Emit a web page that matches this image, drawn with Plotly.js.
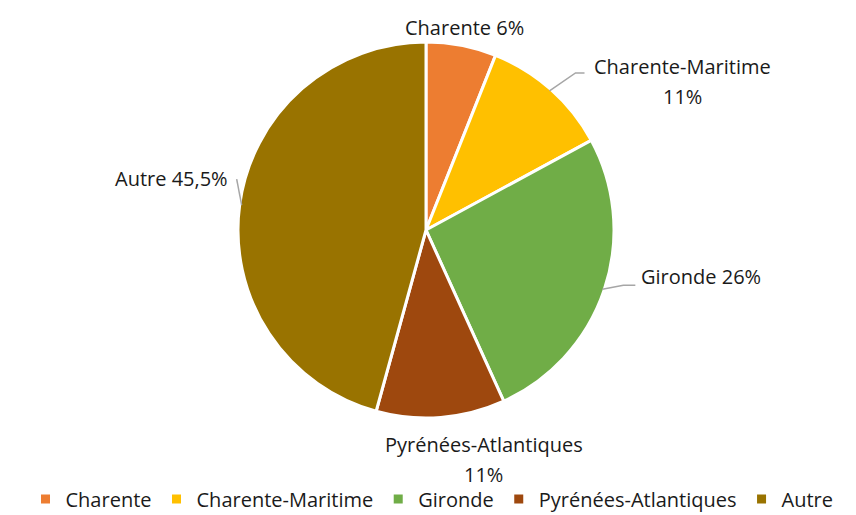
<!DOCTYPE html>
<html>
<head>
<meta charset="utf-8">
<script src="https://cdn.plot.ly/plotly-3.0.1.min.js"></script>
<style>
  html, body { margin: 0; padding: 0; background: #fff; }
  #chart { width: 856px; height: 515px; }
</style>
</head>
<body>
<div id="chart"></div>
<script>
// données
let labels = ['Charente', 'Charente-Maritime', 'Gironde', 'Pyrénées-Atlantiques', 'Autre'];
let values = [6, 11, 26, 11, 45.5];
let colors = ['#ED7D31', '#FFC000', '#70AD47', '#9E480E', '#997300'];
let breakLine = [false, true, false, true, false];

// placement des étiquettes (décalage en px depuis le bord de la part)
let labelOffset = [[3, -20], [133, -9], [99, -13], [43, 44], [-70, -27]];
let leaderPts = [null, [[26, -18], [35, -18]], [[21, -4], [33, -4]], null, [[-5, -26]]];

const W = 856, H = 515;
const M = { l: 0, r: 0, t: 40, b: 95, autoexpand: false };
const PW = W - M.l - M.r, PH = H - M.t - M.b;
// camembert : centre et rayon en px
const cx = 426, cy = 230, R = 186;
const lineGap = 30;

function px2paper(x, y) {
    return [(x - M.l) / PW, (M.t + PH - y) / PH];
}

let total = values.reduce((a, b) => a + b, 0);
let annotations = [];
let shapes = [];
let cum = 0;
const txtFont = { family: '"Open Sans", sans-serif', size: 20, color: '#1a1a1a' };

values.forEach((v, i) => {
    let mid = (cum + v / 2) / total * 2 * Math.PI;
    cum += v;
    let ex = cx + R * Math.sin(mid);
    let ey = cy - R * Math.cos(mid);
    let pct = String(v).replace('.', ',') + '%';
    let lines = breakLine[i] ? [labels[i], pct] : [labels[i] + ' ' + pct];
    lines.forEach((t, k) => {
        let dy = (k - (lines.length - 1) / 2) * lineGap;
        let p = px2paper(ex + labelOffset[i][0], ey + labelOffset[i][1] + dy);
        annotations.push({
            x: p[0], y: p[1], xref: 'paper', yref: 'paper',
            text: t, showarrow: false,
            xanchor: 'center', yanchor: 'middle', align: 'center',
            font: txtFont
        });
    });
    if (leaderPts[i]) {
        let s = px2paper(ex, ey);
        let d = 'M ' + s[0] + ',' + s[1];
        leaderPts[i].forEach(pt => {
            let q = px2paper(ex + pt[0], ey + pt[1]);
            d += ' L ' + q[0] + ',' + q[1];
        });
        shapes.push({ type: 'path', xref: 'paper', yref: 'paper', path: d,
                      line: { color: '#A6A6A6', width: 1.5 } });
    }
});

// domaine un peu plus grand : la bordure blanche mange quelques px
let d0 = px2paper(cx - R - 2, cy + R + 2), d1 = px2paper(cx + R + 2, cy - R - 2);

let trace = {
    type: 'pie',
    labels: labels,
    values: values,
    sort: false,
    direction: 'clockwise',
    rotation: 0,
    textinfo: 'none',
    hoverinfo: 'label+percent',
    domain: { x: [d0[0], d1[0]], y: [d0[1], d1[1]] },
    marker: { colors: colors, line: { color: '#ffffff', width: 3 } }
};

let layout = {
    width: W, height: H,
    margin: M,
    paper_bgcolor: '#fff',
    showlegend: true,
    legend: {
        orientation: 'h',
        x: (432 - M.l) / PW, xanchor: 'center',
        y: (M.t + PH - 499) / PH, yanchor: 'middle',
        font: txtFont,
        itemwidth: 30,
        traceorder: 'normal'
    },
    annotations: annotations,
    shapes: shapes
};

Plotly.newPlot('chart', [trace], layout, { displayModeBar: false });
</script>
</body>
</html>
